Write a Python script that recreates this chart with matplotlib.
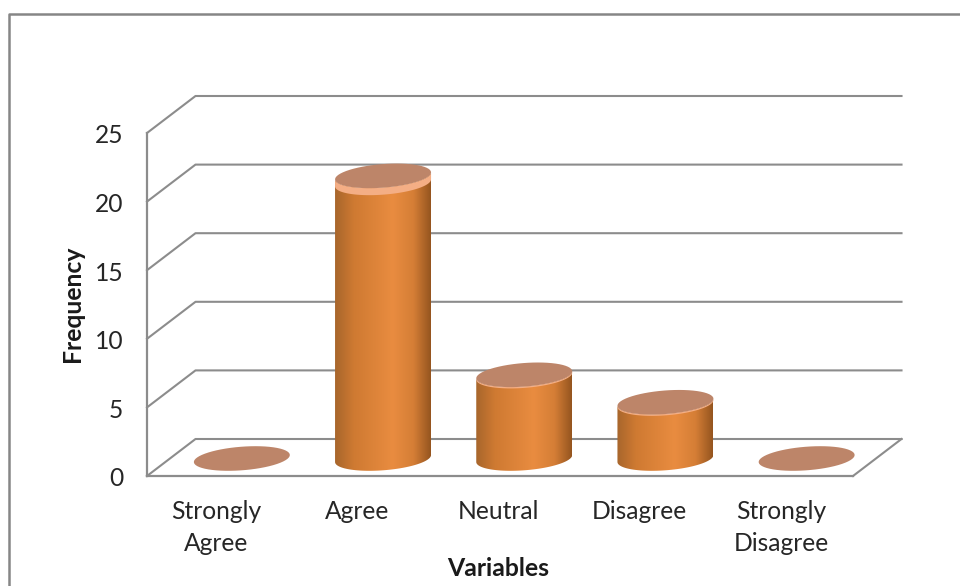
#!/usr/bin/env python3
"""Frequency of responses per Likert category, as an Excel-style 3D cylinder chart."""

import numpy as np
import matplotlib
matplotlib.use("Agg")
import matplotlib.pyplot as plt
from matplotlib.colors import LinearSegmentedColormap
from matplotlib.lines import Line2D
from matplotlib.patches import PathPatch
from matplotlib.path import Path
from matplotlib.transforms import ScaledTranslation

categories = ["Strongly\nAgree", "Agree", "Neutral", "Disagree", "Strongly\nDisagree"]
frequency = [0, 20.6, 6.1, 4.1, 0]
y_ticks = [0, 5, 10, 15, 20, 25]

WIDTH, HEIGHT = 960, 586
LEFT, RIGHT, BOTTOM, TOP = 147, 853, 476, 133  # front plane, pixels

GRID = "#8c8c8c"
FRAME = "#868686"
TEXT = "#262626"
TOP_FACE = "#bd8569"
RIM = "#f4ae85"
body_cmap = LinearSegmentedColormap.from_list(
    "body",
    [(0, "#a8662c"), (0.2, "#cf7a32"), (0.6, "#e98c40"), (0.82, "#d57e36"), (1, "#95551f")],
)

plt.rcParams["font.family"] = ["Lato", "DejaVu Sans"]

fig = plt.figure(figsize=(WIDTH / 100, HEIGHT / 100), dpi=100, facecolor="white")
ax = fig.add_axes([
    LEFT / WIDTH,
    1 - BOTTOM / HEIGHT,
    (RIGHT - LEFT) / WIDTH,
    (BOTTOM - TOP) / HEIGHT,
])
ax.set_xlim(-0.5, 4.5)
ax.set_ylim(0, 25)

# pixel sizes expressed in data units
px_x = 5 / (RIGHT - LEFT)
px_y = 25 / (BOTTOM - TOP)
depth_x, depth_y = 48.5 * px_x, 37 * px_y


def ellipse_arc(cx, cy, t0, t1, n=60):
    """Points along the tilted cylinder ellipse, centre in data units."""
    t = np.linspace(t0, t1, n)
    x = cx + 48 * np.cos(t) * px_x
    y = cy + (3.5 * np.cos(t) + 11.8 * np.sin(t)) * px_y
    return np.column_stack([x, y])


def closed_patch(points, **kwargs):
    codes = [Path.MOVETO] + [Path.LINETO] * (len(points) - 2) + [Path.CLOSEPOLY]
    return PathPatch(Path(points, codes), clip_on=False, **kwargs)


def shift_px(dx, dy):
    return ScaledTranslation(dx / 100, dy / 100, fig.dpi_scale_trans)


# walls and floor
wall_style = dict(color=GRID, lw=1.5, clip_on=False, zorder=1, solid_capstyle="projecting")
for v in y_ticks:
    ax.plot([-0.5, -0.5 + depth_x, 4.5 + depth_x], [v, v + depth_y, v + depth_y], **wall_style)
ax.plot([4.5, 4.5 + depth_x], [0, depth_y], **wall_style)

# cylinders
for i, v in enumerate(frequency):
    cx = i + depth_x / 2
    cy = depth_y / 2 - 1 * px_y
    top = cy + v
    if v > 0:
        # lower arc of the base, then back along the lower arc of the top
        base = ellipse_arc(cx, cy, np.pi, 2 * np.pi)
        upper = ellipse_arc(cx, top, 2 * np.pi, np.pi)
        outline = np.vstack([base, upper, base[:1]])
        clip = closed_patch(outline, facecolor="none", edgecolor="none")
        ax.add_patch(clip)
        grad = ax.imshow(
            np.linspace(0, 1, 256)[None, :],
            cmap=body_cmap,
            extent=[cx - 48 * px_x, cx + 48 * px_x, 0, top + 1],
            aspect="auto",
            zorder=3,
        )
        grad.set_clip_path(clip)
        # lighter rim under the top face, thicker on the tall bar
        rim_px = 7 if v > 10 else 1.3
        rim = np.vstack([
            ellipse_arc(cx, top, np.pi, 2 * np.pi),
            ellipse_arc(cx, top - rim_px * px_y, 2 * np.pi, np.pi),
        ])
        rim = np.vstack([rim, rim[:1]])
        ax.add_patch(closed_patch(rim, facecolor=RIM, edgecolor="none", zorder=4))
    face = ellipse_arc(cx, top, 0, 2 * np.pi)
    ax.add_patch(closed_patch(face, facecolor=TOP_FACE, edgecolor="none", zorder=5))

ax.set_xlim(-0.5, 4.5)
ax.set_ylim(0, 25)

# axes
for side in ("top", "right"):
    ax.spines[side].set_visible(False)
for side in ("left", "bottom"):
    ax.spines[side].set_color(GRID)
    ax.spines[side].set_linewidth(1.6)
ax.patch.set_alpha(0)
ax.set_xticks(range(len(categories)))
ax.set_xticklabels(categories, fontsize=17.7, color=TEXT, linespacing=1.47)
ax.set_yticks(y_ticks)
ax.set_yticklabels([str(t) for t in y_ticks], fontsize=17.7, color=TEXT)
ax.tick_params(axis="x", length=0, pad=17.5)
ax.tick_params(axis="y", length=0, pad=17)
for label in ax.get_yticklabels():
    label.set_transform(label.get_transform() + shift_px(0, -1))
for label in ax.get_xticklabels():
    label.set_transform(label.get_transform() + shift_px(-1.5, 0))

fig.text(72 / WIDTH, 1 - 304 / HEIGHT, "Frequency", rotation=90, ha="center", va="center",
         fontsize=17.8, fontweight="bold", color="#1a1a1a")
fig.text(498 / WIDTH, 1 - 568 / HEIGHT, "Variables", ha="center", va="center",
         fontsize=17.8, fontweight="bold", color="#1a1a1a")

# chart area border, runs off the right and bottom edges
fig.add_artist(Line2D([9 / WIDTH, 9 / WIDTH, 1], [0, 1 - 14 / HEIGHT, 1 - 14 / HEIGHT],
                      color=FRAME, lw=1.8))

fig.savefig("out.png", dpi=100)
